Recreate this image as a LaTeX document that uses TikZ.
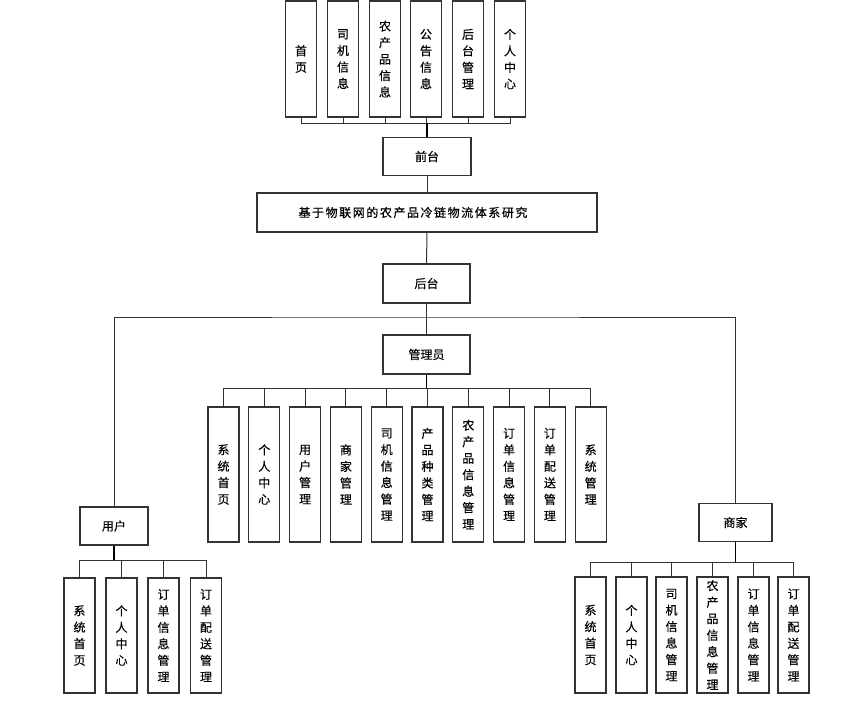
\documentclass[tikz,border=0pt]{standalone}
\usepackage{fontspec}
\newfontfamily\cjk[FakeBold=0.4]{Noto Sans CJK SC}
\begin{document}
\begin{tikzpicture}[x=1pt,y=-1pt,
        every node/.style={font=\cjk\fontsize{12}{16.5}\selectfont},
        box/.style={draw=black!80,line width=1.1pt,inner sep=0pt,align=center},
        tbox/.style={box,minimum width=31pt,minimum height=116pt},
        abox/.style={box,minimum width=31pt,minimum height=135pt},
        cbox/.style={box,minimum width=31pt,minimum height=115pt},
        wbox/.style={box,minimum width=88pt,minimum height=38pt},
        link/.style={draw=black!80,line width=1pt},
        trunk/.style={draw=black,line width=1.8pt}]
        \useasboundingbox (0,0) rectangle (868,709);

        % front end
        \node[tbox] (q1) at (301,59) {首\\页};
        \node[tbox] (q2) at (343,59) {司\\机\\信\\息};
        \node[tbox] (q3) at (385,59) {农\\产\\品\\信\\息};
        \node[tbox] (q4) at (426,59) {公\\告\\信\\息};
        \node[tbox] (q5) at (468,59) {后\\台\\管\\理};
        \node[tbox] (q6) at (510,59) {个\\人\\中\\心};
        \node[wbox] (qt) at (427,156.5) {前台};

        \node[box,minimum width=340pt,minimum height=39pt] (zt) at (427,212.5)
            {\addfontfeature{LetterSpace=13}基于物联网的农产品冷链物流体系研究\hspace{28pt}};

        % back end
        \node[wbox,minimum width=87pt,minimum height=39pt] (ht)  at (426.5,283.5) {后台};
        \node[wbox,minimum width=87pt,minimum height=39pt] (gly) at (426.5,354.5) {管理员};
        \node[wbox,minimum width=68pt] (yh) at (114,526)     {用户};
        \node[wbox,minimum width=73pt] (sj) at (735.5,522.5) {商家};

        % administrator
        \node[abox] (a1)  at (223.5,474.5) {系\\统\\首\\页};
        \node[abox] (a2)  at (264.3,474.5) {个\\人\\中\\心};
        \node[abox] (a3)  at (305.1,474.5) {用\\户\\管\\理};
        \node[abox] (a4)  at (345.9,474.5) {商\\家\\管\\理};
        \node[abox] (a5)  at (386.7,474.5) {司\\机\\信\\息\\管\\理};
        \node[abox] (a6)  at (427.5,474.5) {产\\品\\种\\类\\管\\理};
        \node[abox] (a7)  at (468.3,474.5) {农\\产\\品\\信\\息\\管\\理};
        \node[abox] (a8)  at (509.1,474.5) {订\\单\\信\\息\\管\\理};
        \node[abox] (a9)  at (549.9,474.5) {订\\单\\配\\送\\管\\理};
        \node[abox] (a10) at (590.7,474.5) {系\\统\\管\\理};

        % user
        \node[cbox] (u1) at (79.5,635.5)  {系\\统\\首\\页};
        \node[cbox] (u2) at (121.5,635.5) {个\\人\\中\\心};
        \node[cbox] (u3) at (163.5,635.5) {订\\单\\信\\息\\管\\理};
        \node[cbox] (u4) at (206,635.5)   {订\\单\\配\\送\\管\\理};

        % merchant
        \node[cbox,minimum height=116pt] (s1) at (590.5,635) {系\\统\\首\\页};
        \node[cbox,minimum height=116pt] (s2) at (631.5,635) {个\\人\\中\\心};
        \node[cbox,minimum height=116pt] (s3) at (671.5,635) {司\\机\\信\\息\\管\\理};
        \node[cbox,minimum height=116pt] (s4) at (712.5,635) {农\\产\\品\\信\\息\\管\\理};
        \node[cbox,minimum height=116pt] (s5) at (753.5,635) {订\\单\\信\\息\\管\\理};
        \node[cbox,minimum height=116pt] (s6) at (793.5,635) {订\\单\\配\\送\\管\\理};

        \coordinate (qb) at (427,123);
        \coordinate (hb) at (426.5,317);
        \coordinate (gb) at (426.5,388);
        \coordinate (yb) at (114,560);
        \coordinate (sb) at (735.5,562);

        \draw[link] (q1.south) |- (qb) (q2.south) |- (qb) (q3.south) |- (qb)
                    (q4.south) |- (qb) (q5.south) |- (qb) (q6.south) |- (qb);
        \draw[trunk] (qb) -- (qt.north);
        \draw[link] (qt) -- (zt);
        \draw[link] (zt) -- (ht);
        \draw[link] (ht) -- (gly);
        \draw[link] (yh.north) |- (hb) -| (sj.north);

        \draw[trunk] (gly) -- (gb);
        \draw[link] (a1.north) |- (gb) (a2.north) |- (gb) (a3.north) |- (gb)
                    (a4.north) |- (gb) (a5.north) |- (gb) (a6.north) |- (gb)
                    (a7.north) |- (gb) (a8.north) |- (gb) (a9.north) |- (gb)
                    (a10.north) |- (gb);

        \draw[trunk] (yh) -- (yb);
        \draw[link] (u1.north) |- (yb) (u2.north) |- (yb) (u3.north) |- (yb)
                    (u4.north) |- (yb);

        \draw[trunk] (sj) -- (sb);
        \draw[link] (s1.north) |- (sb) (s2.north) |- (sb) (s3.north) |- (sb)
                    (s4.north) |- (sb) (s5.north) |- (sb) (s6.north) |- (sb);
    \end{tikzpicture}
\end{document}
